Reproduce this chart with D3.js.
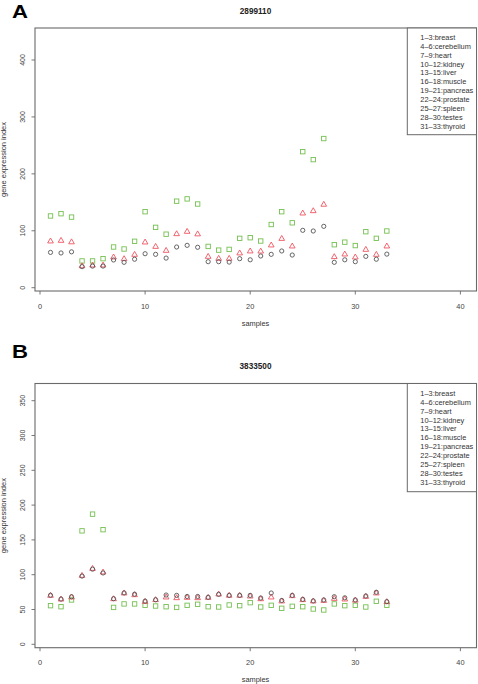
<!DOCTYPE html>
<html><head><meta charset="utf-8">
<script src="https://cdn.jsdelivr.net/npm/d3@7"></script>
<style>body{margin:0;background:#fff}svg{display:block}text{font-family:"Liberation Sans",Arial,sans-serif}</style>
</head><body><svg id="c" width="478" height="684"></svg>
<script>
const samples = d3.range(1, 34);
const legendLabels = ["1–3:breast","4–6:cerebellum","7–9:heart","10–12:kidney","13–15:liver","16–18:muscle","19–21:pancreas","22–24:prostate","25–27:spleen","28–30:testes","31–33:thyroid"];
const xTicks = [0, 10, 20, 30, 40];

// Panel A (2899110)
const titleA = "2899110";
const yTicksA = [0, 100, 200, 300, 400];
const greenA = [126,130,124,47,47,51,71.5,68,81.5,133.5,106,94,152,156,147,72.5,66,67.3,86.7,87.8,82,111,133.5,114,239,225,262,75.5,80,74,98.4,86.7,99.6];
const redA   = [81.5,82.6,80,38,39.3,39.3,53.4,50.4,58,79.7,72,65,94.3,98.4,94,54.5,51,51,60.5,64,63.8,74.5,86,72.7,130.6,134.7,146,54,58.6,53.4,66.8,58,72.7];
const blackA = [62,61,63,37,38,38,48.7,44.6,50,59.7,58.6,52,71.5,74.4,71,45.7,45.7,45,51,49,55.7,58.6,64.5,57.4,100.8,99.6,107.8,44.6,49,45.7,55,50,59];

// Panel B (3833500)
const titleB = "3833500";
const yTicksB = [0, 50, 100, 150, 200, 250, 300, 350];
const greenB = [55.5,54,63.7,163,187,164.7,53,58,58,56,55,54,53,56,57.5,54,53.6,56.5,55.5,59.8,53.6,56,51.7,54.6,54,50.7,49.3,58,55.5,56,53.6,61.8,56];
const redB   = [69.9,64.6,67.5,98.6,108.6,103.4,65,73.3,70.8,61.2,63.7,67.5,66.5,67,66.5,67,71.8,70,70,68.9,65,67.5,61.8,69.4,63.7,61.8,62.6,65.5,64.6,63,68.4,73.3,60.8];
const blackB = [70.5,65,68.3,98,108,102.5,65.5,73.8,72,62,64,70.8,70.3,68.7,68.7,67.5,71.8,70.3,70.3,70.3,66.5,73.7,63,70.3,64.6,62.3,63.7,68.4,66.8,63.7,69.4,74.8,61.3];

const svg = d3.select("#c");
const AX = "#6a6a6a";
const GREEN = "#74c050", RED = "#ee5560", BLACK = "#555555";

function panel(cfg) {
  const g = svg.append("g");
  const x = d3.scaleLinear().domain([0, 40]).range([40, 460.4]);
  const y = d3.scaleLinear().domain([0, cfg.yMax]).range([cfg.y0, cfg.yTop]);
  const L = 35, R = 476.5, T = cfg.boxTop, B = cfg.boxBottom;

  // panel letter
  g.append("text").attr("x", 12).attr("y", cfg.letterY).attr("font-size", 19).attr("font-weight", "bold")
    .attr("textLength", 16).attr("lengthAdjust", "spacingAndGlyphs").text(cfg.letter);
  // title
  g.append("text").attr("x", 255.5).attr("y", cfg.titleY).attr("text-anchor", "middle")
    .attr("font-size", 8.2).attr("font-weight", "bold").attr("fill", "#222").text(cfg.title);
  // box
  g.append("rect").attr("x", L).attr("y", T).attr("width", R - L).attr("height", B - T)
    .attr("fill", "none").attr("stroke", AX).attr("stroke-width", 1.1);

  // y axis ticks
  const yt = g.selectAll(".yt").data(cfg.yTicks).enter().append("g")
    .attr("transform", d => `translate(0,${y(d)})`);
  yt.append("line").attr("x1", 31.5).attr("x2", L).attr("stroke", AX).attr("stroke-width", 0.9);
  yt.append("text").attr("transform", "translate(23,0) rotate(-90)").attr("text-anchor", "middle")
    .attr("dy", "0.35em").attr("font-size", 7).attr("fill", "#444").text(d => d);
  g.append("text").attr("transform", `translate(6,${(T + B) / 2}) rotate(-90)`).attr("text-anchor", "middle")
    .attr("font-size", 7.5).attr("fill", "#333").text("gene expression index");

  // x axis ticks
  const xt = g.selectAll(".xt").data(xTicks).enter().append("g")
    .attr("transform", d => `translate(${x(d)},0)`);
  xt.append("line").attr("y1", B).attr("y2", B + 3.5).attr("stroke", AX).attr("stroke-width", 0.9);
  xt.append("text").attr("y", B + 17.5).attr("text-anchor", "middle")
    .attr("font-size", 7.4).attr("fill", "#444").text(d => d);
  g.append("text").attr("x", 255.5).attr("y", B + 34.5).attr("text-anchor", "middle")
    .attr("font-size", 7.4).attr("fill", "#333").text("samples");

  // points: squares (green), triangles (red), circles (black)
  const s = 4.4;
  g.selectAll(".sq").data(cfg.green).enter().append("rect")
    .attr("x", (d, i) => x(samples[i]) - s / 2).attr("y", d => y(d) - s / 2)
    .attr("width", s).attr("height", s).attr("fill", "none").attr("stroke", GREEN).attr("stroke-width", 0.9);
  const tri = d3.symbol().type(d3.symbolTriangle).size(14);
  g.selectAll(".tr").data(cfg.red).enter().append("path")
    .attr("d", tri).attr("transform", (d, i) => `translate(${x(samples[i])},${y(d)})`)
    .attr("fill", "none").attr("stroke", RED).attr("stroke-width", 0.9);
  g.selectAll(".ci").data(cfg.black).enter().append("circle")
    .attr("cx", (d, i) => x(samples[i])).attr("cy", d => y(d)).attr("r", 2.1)
    .attr("fill", "none").attr("stroke", BLACK).attr("stroke-width", 0.9);

  // legend
  const lg = g.append("g");
  lg.append("rect").attr("x", 407.3).attr("y", T).attr("width", R - 407.3).attr("height", cfg.legBottom - T)
    .attr("fill", "#fff").attr("stroke", AX).attr("stroke-width", 1);
  lg.selectAll("text").data(legendLabels).enter().append("text")
    .attr("x", 420.3).attr("y", (d, i) => cfg.legFirst + i * 8.9).attr("dy", "0.35em")
    .attr("font-size", 7.4).attr("fill", "#333").text(d => d);
}

panel({letter: "A", letterY: 18, title: titleA, titleY: 14, yMax: 400, y0: 287.7, yTop: 60,
  boxTop: 28, boxBottom: 291, yTicks: yTicksA, green: greenA, red: redA, black: blackA,
  legBottom: 134.7, legFirst: 37.3});
panel({letter: "B", letterY: 358, title: titleB, titleY: 369, yMax: 350, y0: 644.3, yTop: 400.7,
  boxTop: 383.5, boxBottom: 647.7, yTicks: yTicksB, green: greenB, red: redB, black: blackB,
  legBottom: 491.7, legFirst: 393.3});
</script></body></html>
